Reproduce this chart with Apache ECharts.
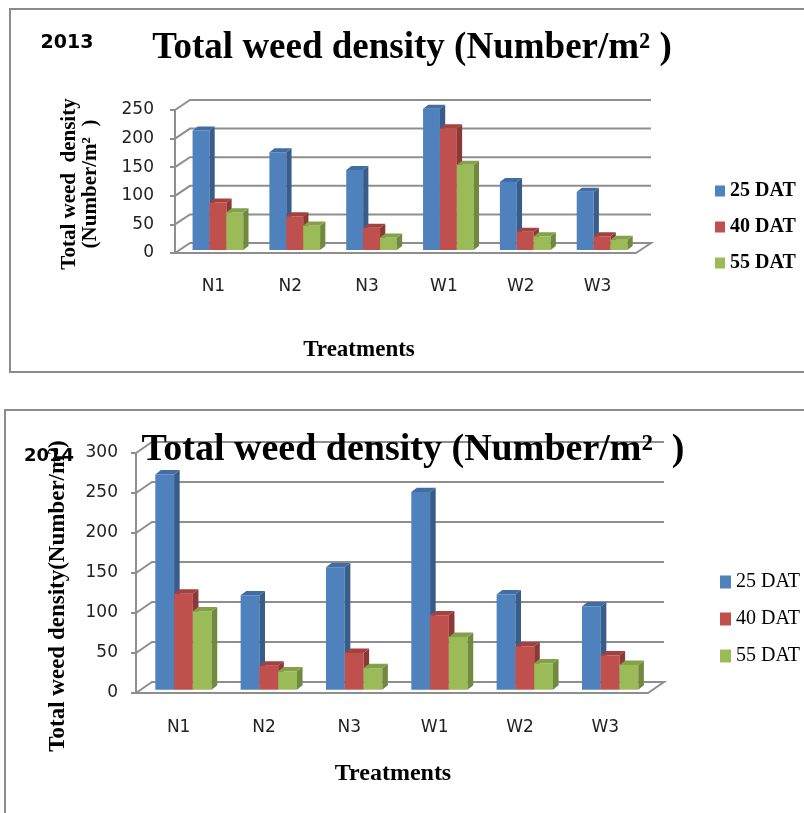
<!DOCTYPE html>
<html>
<head>
<meta charset="utf-8">
<title>Total weed density</title>
<script src="https://cdn.jsdelivr.net/npm/echarts@6/dist/echarts.min.js"></script>
<style>
  html, body { margin: 0; padding: 0; background: #fff; }
  #chart { width: 804px; height: 813px; }
</style>
</head>
<body>
<div id="chart"></div>
<script>
var treatments = ['N1', 'N2', 'N3', 'W1', 'W2', 'W3'];
var stages = ['25 DAT', '40 DAT', '55 DAT'];

// 2013
var dat25_2013 = [209, 171, 140, 247, 119, 102];
var dat40_2013 = [83, 59, 39, 213, 32, 24];
var dat55_2013 = [66, 43, 22, 149, 24, 18];
var ticks2013 = [0, 50, 100, 150, 200, 250];

// 2014
var dat25_2014 = [269, 118, 153, 247, 119, 104];
var dat40_2014 = [120, 30, 46, 93, 54, 43];
var dat55_2014 = [98, 23, 27, 66, 33, 31];
var ticks2014 = [0, 50, 100, 150, 200, 250, 300];

var faces = [
  { front: '#4F81BD', side: '#385D8A', top: '#416DA2' },
  { front: '#C0504D', side: '#8C3836', top: '#A3413E' },
  { front: '#9BBB59', side: '#71893F', top: '#84A14A' }
];
var wallColor = '#8e8e8e';
var serif = '"Liberation Serif", "Times New Roman", serif';
var sans = '"DejaVu Sans", sans-serif';

// 3d looking column: front face, right side, top
function barItem(k, depth) {
  return function (params, api) {
    var ci = api.value(0);
    var base = api.coord([ci, 0]);
    var top = api.coord([ci, api.value(1)]);
    var band = api.size([1, 0])[0];
    var w = band * 0.22;
    var sx = depth.dx * 0.3, sy = depth.dy * 0.3;   // bars stand a bit behind the front edge
    var ex = depth.dx * 0.35, ey = depth.dy * 0.4;  // thickness of the column
    var x0 = base[0] - 1.5 * w + k * w + sx;
    var x1 = x0 + w;
    var yb = base[1] - sy, yt = top[1] - sy;
    var c = faces[k];
    return {
      type: 'group',
      children: [
        { type: 'rect', shape: { x: x0, y: yt, width: w, height: yb - yt }, style: { fill: c.front } },
        { type: 'polygon', shape: { points: [[x1, yt], [x1 + ex, yt - ey], [x1 + ex, yb - ey], [x1, yb]] }, style: { fill: c.side } },
        { type: 'polygon', shape: { points: [[x0, yt], [x0 + ex, yt - ey], [x1 + ex, yt - ey], [x1, yt]] }, style: { fill: c.top } }
      ]
    };
  };
}

// side wall + back wall grid lines (and the floor for 0)
function wallItem(depth, n) {
  return function (params, api) {
    var v = api.value(1);
    var band = api.size([1, 0])[0];
    var l = api.coord([0, v]);
    var r = api.coord([n - 1, v]);
    var xl = l[0] - band / 2, xr = r[0] + band / 2, y = l[1];
    var pts = [[xl, y], [xl + depth.dx, y - depth.dy], [xr + depth.dx, y - depth.dy]];
    if (v === 0) pts.push([xr, y]);
    return { type: 'polyline', shape: { points: pts }, style: { stroke: wallColor, lineWidth: 2, fill: null } };
  };
}

var series = [];
function addChart(gi, sets, ticks, depth) {
  series.push({
    type: 'custom', xAxisIndex: gi, yAxisIndex: gi, z: 1, silent: true,
    renderItem: wallItem(depth, treatments.length),
    data: ticks.map(function (v) { return [0, v]; })
  });
  sets.forEach(function (vals, k) {
    series.push({
      type: 'custom', name: stages[k], xAxisIndex: gi, yAxisIndex: gi, z: 2,
      itemStyle: { color: faces[k].front },
      renderItem: barItem(k, depth),
      data: vals.map(function (v, i) { return [i, v]; })
    });
  });
}
addChart(0, [dat25_2013, dat40_2013, dat55_2013], ticks2013, { dx: 15, dy: 10 });
addChart(1, [dat25_2014, dat40_2014, dat55_2014], ticks2014, { dx: 16, dy: 11 });

function xAxisFor(gi, margin) {
  return {
    type: 'category', gridIndex: gi, data: treatments,
    axisLine: { lineStyle: { color: wallColor, width: 2 } },
    axisTick: { length: 7, lineStyle: { color: wallColor, width: 2 } },
    axisLabel: { margin: margin, fontFamily: sans, fontSize: 17, color: '#222' }
  };
}
function yAxisFor(gi, max, margin) {
  return {
    type: 'value', gridIndex: gi, min: 0, max: max, interval: 50,
    axisLine: { show: true, lineStyle: { color: wallColor, width: 2 } },
    axisTick: { show: true, length: 5, lineStyle: { color: wallColor, width: 2 } },
    splitLine: { show: false },
    axisLabel: { margin: margin, fontFamily: sans, fontSize: 17, color: '#222' }
  };
}

function txt(x, y, text, size, opts) {
  opts = opts || {};
  return {
    type: 'text', x: x, y: y, rotation: opts.rotation || 0, z: 100,
    style: {
      text: text, fontSize: size, fontFamily: opts.family || serif,
      fontWeight: opts.weight || 'bold', fill: '#000',
      align: 'center', verticalAlign: 'middle', lineHeight: opts.lineHeight
    }
  };
}

var option = {
  animation: false,
  backgroundColor: '#fff',
  grid: [
    { left: 175, top: 110, width: 461, height: 143 },
    { left: 136, top: 453, width: 512, height: 240 }
  ],
  xAxis: [xAxisFor(0, 25), xAxisFor(1, 26)],
  yAxis: [yAxisFor(0, 250, 21), yAxisFor(1, 300, 18)],
  legend: [
    {
      data: stages, orient: 'vertical', left: 710, top: 176, itemGap: 16,
      itemWidth: 10, itemHeight: 11, icon: 'rect',
      textStyle: { fontFamily: serif, fontWeight: 'bold', fontSize: 20, color: '#000' }
    },
    {
      data: stages, orient: 'vertical', left: 715, top: 567, itemGap: 17,
      itemWidth: 11, itemHeight: 13, icon: 'rect',
      textStyle: { fontFamily: serif, fontSize: 20, color: '#000' }
    }
  ],
  graphic: [
    { type: 'rect', shape: { x: 10, y: 9, width: 820, height: 363 }, style: { stroke: '#8c8c8c', lineWidth: 2, fill: null } },
    { type: 'rect', shape: { x: 5, y: 410, width: 830, height: 500 }, style: { stroke: '#8c8c8c', lineWidth: 2, fill: null } },
    txt(67, 43, '2013', 19, { family: sans }),
    txt(412, 48, 'Total weed density (Number/m² )', 37),
    txt(80, 184, 'Total weed  density\n(Number/m²  )', 21, { rotation: Math.PI / 2, lineHeight: 21 }),
    txt(359, 350, 'Treatments', 23),
    txt(49, 456, '2014', 18, { family: sans }),
    txt(413, 450, 'Total weed density (Number/m²  )', 38),
    txt(58, 596, 'Total weed density(Number/m²)', 23, { rotation: Math.PI / 2 }),
    txt(393, 774, 'Treatments', 24)
  ],
  series: series
};

var chart = echarts.init(document.getElementById('chart'));
chart.setOption(option);
</script>
</body>
</html>
